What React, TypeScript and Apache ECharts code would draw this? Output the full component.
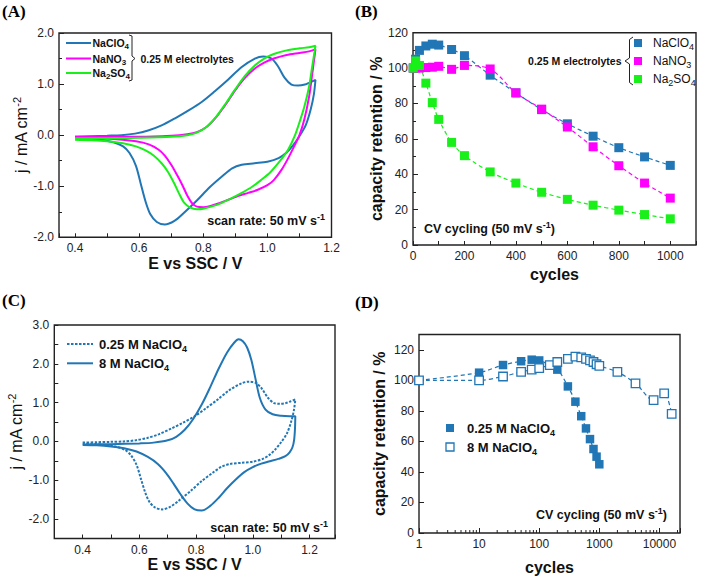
import React, { useEffect, useRef } from 'react';
import * as echarts from 'echarts';

const SANS = 'Liberation Sans, Arial, Helvetica, sans-serif';
const SERIF = 'Liberation Serif, Times New Roman, serif';
const BLUE = '#2176b5';
const MAGENTA = '#ff00ff';
const GREEN = '#19f019';
const AXIS = '#222';
const TXT = '#111';

// ---------- Panel A: CV curves, 0.25 M electrolytes [E (V), j (mA cm-2)] ----------
const naclo4Forward = [[0.40,-0.03],[0.45,-0.02],[0.50,-0.01],[0.545,0.0],[0.587,0.03],[0.628,0.09],[0.67,0.19],[0.712,0.33],[0.753,0.48],[0.795,0.65],[0.836,0.86],[0.878,1.09],[0.919,1.33],[0.961,1.50],[0.987,1.54],[1.013,1.50],[1.033,1.35],[1.054,1.12],[1.075,0.99],[1.096,0.97],[1.117,0.99],[1.132,1.03],[1.15,1.08]];
const naclo4Reverse = [[1.145,0.8],[1.135,0.5],[1.12,0.2],[1.10,-0.02],[1.08,-0.2],[1.06,-0.34],[1.035,-0.45],[1.0,-0.52],[0.96,-0.55],[0.92,-0.58],[0.89,-0.65],[0.86,-0.80],[0.82,-1.02],[0.78,-1.28],[0.74,-1.52],[0.71,-1.68],[0.68,-1.75],[0.655,-1.70],[0.635,-1.55],[0.62,-1.30],[0.605,-0.95],[0.59,-0.60],[0.57,-0.35],[0.55,-0.22],[0.52,-0.14],[0.48,-0.09],[0.44,-0.07],[0.40,-0.06]];
const nano3Forward = [[0.40,-0.03],[0.50,-0.03],[0.60,-0.03],[0.70,-0.01],[0.75,0.02],[0.78,0.06],[0.81,0.16],[0.84,0.35],[0.87,0.60],[0.90,0.88],[0.93,1.12],[0.96,1.30],[0.99,1.42],[1.02,1.50],[1.06,1.57],[1.10,1.61],[1.13,1.64],[1.15,1.68]];
const nano3Reverse = [[1.14,1.2],[1.13,0.75],[1.115,0.3],[1.10,0.0],[1.085,-0.2],[1.065,-0.45],[1.045,-0.67],[1.02,-0.88],[1.0,-0.98],[0.97,-1.07],[0.94,-1.13],[0.91,-1.19],[0.88,-1.26],[0.85,-1.33],[0.82,-1.39],[0.80,-1.41],[0.78,-1.40],[0.765,-1.33],[0.75,-1.18],[0.735,-0.98],[0.72,-0.80],[0.70,-0.58],[0.68,-0.40],[0.66,-0.28],[0.63,-0.18],[0.59,-0.12],[0.53,-0.08],[0.46,-0.06],[0.40,-0.05]];
const na2so4Forward = [[0.40,-0.06],[0.50,-0.06],[0.60,-0.05],[0.70,-0.03],[0.75,0.0],[0.78,0.05],[0.81,0.16],[0.84,0.36],[0.87,0.62],[0.90,0.90],[0.93,1.16],[0.96,1.36],[0.99,1.50],[1.02,1.59],[1.06,1.66],[1.10,1.70],[1.13,1.72],[1.15,1.75]];
const na2so4Reverse = [[1.14,1.35],[1.13,0.95],[1.115,0.55],[1.10,0.25],[1.085,-0.02],[1.065,-0.28],[1.04,-0.5],[1.01,-0.72],[0.98,-0.88],[0.95,-1.02],[0.92,-1.13],[0.89,-1.23],[0.86,-1.32],[0.83,-1.39],[0.80,-1.44],[0.78,-1.45],[0.76,-1.42],[0.74,-1.32],[0.725,-1.15],[0.71,-0.95],[0.69,-0.72],[0.67,-0.55],[0.645,-0.40],[0.62,-0.30],[0.59,-0.22],[0.55,-0.16],[0.50,-0.12],[0.45,-0.10],[0.40,-0.09]];

// ---------- Panel C: 8 M NaClO4 CV ----------
const m8Forward = [[0.40,-0.08],[0.50,-0.07],[0.60,-0.05],[0.65,-0.03],[0.70,0.03],[0.73,0.12],[0.76,0.30],[0.79,0.58],[0.82,0.95],[0.85,1.40],[0.88,1.88],[0.91,2.30],[0.935,2.55],[0.95,2.63],[0.965,2.58],[0.98,2.42],[0.995,2.10],[1.01,1.60],[1.025,1.12],[1.045,0.82],[1.07,0.70],[1.10,0.66],[1.13,0.65],[1.15,0.65]];
const m8Reverse = [[1.149,0.35],[1.146,0.05],[1.14,-0.15],[1.13,-0.28],[1.115,-0.38],[1.09,-0.45],[1.06,-0.51],[1.03,-0.57],[1.0,-0.66],[0.97,-0.79],[0.94,-0.98],[0.91,-1.20],[0.88,-1.45],[0.85,-1.66],[0.82,-1.78],[0.795,-1.75],[0.77,-1.60],[0.745,-1.36],[0.72,-1.08],[0.695,-0.82],[0.665,-0.58],[0.63,-0.40],[0.59,-0.26],[0.55,-0.18],[0.50,-0.13],[0.45,-0.10],[0.40,-0.09]];

// ---------- Panel B: capacity retention (%) vs cycles ----------
const cyclesB = [1, 10, 25, 50, 75, 100, 150, 200, 300, 400, 500, 600, 700, 800, 900, 1000];
const naclo4B = [100, 105, 110, 112.5, 113.5, 113, 110.5, 107, 96, 86, 76.5, 68.5, 61.5, 55, 49.8, 45];
const nano3B = [100, 100, 100, 100.3, 100.5, 101, 99.3, 101.5, 99.5, 86, 76.8, 66.7, 55.5, 44.8, 35, 26.5];
const na2so4B = [100, 104, 101.5, 91.5, 80.5, 71, 58, 50.5, 41.3, 35, 29.8, 25.8, 22.5, 19.7, 17.2, 14.8];

// ---------- Panel D: capacity retention (%) vs cycles, log axis ----------
const cyclesD025 = [1, 10, 25, 50, 75, 100, 200, 300, 400, 500, 600, 700, 800, 900, 1000];
const retD025 = [100, 105, 110, 112.5, 113.5, 113, 107, 96, 86, 76.5, 68.5, 61.5, 55, 50, 45];
const cyclesD8M = [1, 10, 25, 50, 75, 100, 150, 200, 300, 400, 500, 600, 700, 800, 900, 1000, 2000, 4000, 8000, 12000, 16000];
const retD8M = [100, 100, 102.5, 105.5, 107, 108, 110, 112, 114, 115.5, 115, 114, 113, 112, 110.5, 109.5, 105.5, 98, 87, 91.5, 78];
const logMinorTicks = [2,3,4,5,6,7,8,9,20,30,40,50,60,70,80,90,200,300,400,500,600,700,800,900,2000,3000,4000,5000,6000,7000,8000,9000,20000];

const isMult = (v: number, step: number) => Math.abs(v / step - Math.round(v / step)) < 1e-6;
const pairs = (xs: number[], ys: number[]) => xs.map((x, i) => [x, ys[i]]);

const tickStyle = { inside: true, length: 5, lineStyle: { color: AXIS, width: 1 } };
const minorStyle = { show: true, splitNumber: 2, length: 3, lineStyle: { color: AXIS, width: 1 } };
const labelStyle = { color: '#222', fontSize: 12, fontFamily: SANS, margin: 5 };

const boldName = { fontFamily: SANS, fontSize: 16, fontWeight: 'bold', color: TXT };
const jName = '{a|j / mA cm}{s|-2}';
const jRich = {
  a: { fontFamily: SANS, fontSize: 16, color: TXT, lineHeight: 20, verticalAlign: 'middle' },
  s: { fontFamily: SANS, fontSize: 11, color: TXT, lineHeight: 10, verticalAlign: 'top' },
};

function baseAxis(gridIndex: number) {
  return {
    gridIndex,
    axisLine: { show: false, onZero: false },
    splitLine: { show: false },
    axisTick: tickStyle,
    axisLabel: { ...labelStyle },
    nameLocation: 'middle',
  };
}

function richText(x: number, y: number, text: string, size: number, bold: boolean, align = 'left') {
  const fw = bold ? 'bold' : 'normal';
  const small = Math.round(size * 0.72);
  return {
    type: 'text', x, y, silent: true,
    style: {
      text, align, verticalAlign: 'middle',
      rich: {
        m: { fontFamily: SANS, fontSize: size, fontWeight: fw, fill: TXT, lineHeight: size + 5, verticalAlign: 'middle' },
        b: { fontFamily: SANS, fontSize: small, fontWeight: fw, fill: TXT, lineHeight: small, verticalAlign: 'bottom' },
        t: { fontFamily: SANS, fontSize: small, fontWeight: fw, fill: TXT, lineHeight: small, verticalAlign: 'top' },
      },
    },
  };
}

function panelLabel(x: number, y: number, text: string) {
  return { type: 'text', x, y, silent: true, style: { text, fontFamily: SERIF, fontSize: 17, fontWeight: 'bold', fill: '#000', verticalAlign: 'top' } };
}

function legLine(x1: number, x2: number, y: number, color: string, dash?: number[]) {
  return { type: 'line', silent: true, shape: { x1, y1: y, x2, y2: y }, style: { stroke: color, lineWidth: 2, lineDash: dash } };
}

function legSquare(cx: number, cy: number, color: string, open = false) {
  return {
    type: 'rect', silent: true, shape: { x: cx - 4, y: cy - 4, width: 8, height: 8 },
    style: open ? { fill: '#fff', stroke: color, lineWidth: 1.3 } : { fill: color },
  };
}

const graphic = [
  panelLabel(2, 3, '(A)'),
  panelLabel(355, 3, '(B)'),
  panelLabel(2, 292, '(C)'),
  panelLabel(355, 294, '(D)'),
  // Panel A legend
  legLine(66, 91, 43, BLUE),
  legLine(66, 91, 58.5, MAGENTA),
  legLine(66, 91, 73, GREEN),
  richText(92.5, 43, '{m|NaClO}{b|4}', 10.5, true),
  richText(92.5, 58.5, '{m|NaNO}{b|3}', 10.5, true),
  richText(92.5, 73, '{m|Na}{b|2}{m|SO}{b|4}', 10.5, true),
  { type: 'polyline', silent: true, shape: { points: [[129, 35], [132, 36], [132, 56], [135, 58.5], [132, 61], [132, 80], [129, 81]] }, style: { stroke: '#222', lineWidth: 1, fill: 'none' } },
  richText(140.5, 58.5, '{m|0.25 M electrolytes}', 10.5, true),
  richText(325, 221, '{m|scan rate: 50 mV s}{t|-1}', 12.5, true, 'right'),
  // Panel B legend
  legSquare(638, 43, BLUE),
  legSquare(638, 61, MAGENTA),
  legSquare(638, 79, GREEN),
  richText(653, 43, '{m|NaClO}{b|4}', 12, false),
  richText(653, 61, '{m|NaNO}{b|3}', 12, false),
  richText(653, 79, '{m|Na}{b|2}{m|SO}{b|4}', 12, false),
  { type: 'polyline', silent: true, shape: { points: [[633, 37], [629.5, 39.5], [629.5, 58], [625, 61], [629.5, 64], [629.5, 82.5], [633, 85]] }, style: { stroke: '#222', lineWidth: 1, fill: 'none' } },
  richText(621.5, 61, '{m|0.25 M electrolytes}', 10.5, true, 'right'),
  richText(424, 229, '{m|CV cycling (50 mV s}{t|-1}{m|)}', 12.5, true),
  // Panel C legend
  legLine(67, 93, 344, BLUE, [2.5, 1.5]),
  legLine(67, 93, 363.3, BLUE),
  richText(99, 344, '{m|0.25 M NaClO}{b|4}', 13, true),
  richText(99, 363.3, '{m|8 M NaClO}{b|4}', 13, true),
  richText(328, 528.3, '{m|scan rate: 50 mV s}{t|-1}', 12.5, true, 'right'),
  // Panel D legend
  legSquare(450, 428, BLUE),
  legSquare(450, 447, BLUE, true),
  richText(467, 428, '{m|0.25 M NaClO}{b|4}', 13, true),
  richText(467, 447, '{m|8 M NaClO}{b|4}', 13, true),
  richText(667, 515, '{m|CV cycling (50 mV s}{t|-1}{m|)}', 12.5, true, 'right'),
];

const cvLine = (data: number[][], color: string, xi: number, dash?: any) => ({
  type: 'line', xAxisIndex: xi, yAxisIndex: xi, data, showSymbol: false, symbol: 'none', smooth: 0.3,
  lineStyle: { color, width: 2, type: dash || 'solid' }, silent: true,
});

const retLine = (data: number[][], color: string, xi: number, open = false) => ({
  type: 'line', xAxisIndex: xi, yAxisIndex: xi, data, symbol: 'rect', symbolSize: xi === 1 ? 9 : 8.5, smooth: 0.3,
  lineStyle: { color, width: 1.2, type: [4, 3] },
  itemStyle: open ? { color: '#fff', borderColor: color, borderWidth: 1.3 } : { color, borderWidth: 0 },
  silent: true,
});

const gridStyle = { show: true, borderColor: AXIS, borderWidth: 1.4 };

const option: any = {
  animation: false,
  backgroundColor: '#fff',
  grid: [
    { left: 59, top: 33, width: 272.5, height: 204.3, ...gridStyle },
    { left: 413, top: 32.7, width: 283, height: 212.3, ...gridStyle },
    { left: 54.3, top: 325, width: 280.7, height: 213.5, ...gridStyle },
    { left: 419, top: 334.5, width: 261, height: 198.5, ...gridStyle },
  ],
  xAxis: [
    { ...baseAxis(0), type: 'value', min: 0.35, max: 1.2, minInterval: 0.1, maxInterval: 0.1, axisTick: { ...tickStyle, length: 4 },
      axisLabel: { ...labelStyle, formatter: (v: number) => (isMult(v, 0.2) && v > 0.36 ? v.toFixed(1) : '') },
      name: 'E vs SSC / V', nameGap: 17, nameTextStyle: boldName },
    { ...baseAxis(1), type: 'value', min: 0, max: 1100, interval: 100, axisTick: { ...tickStyle, length: 4 },
      axisLabel: { ...labelStyle, formatter: (v: number) => (v % 200 === 0 && v <= 1000 ? String(v) : '') },
      name: 'cycles', nameGap: 21, nameTextStyle: boldName },
    { ...baseAxis(2), type: 'value', min: 0.3, max: 1.29, interval: 0.1, axisTick: { ...tickStyle, length: 4 },
      axisLabel: { ...labelStyle, formatter: (v: number) => (isMult(v, 0.2) && v > 0.35 && v < 1.25 ? v.toFixed(1) : '') },
      name: 'E vs SSC / V', nameGap: 14, nameTextStyle: boldName },
    { ...baseAxis(3), type: 'log', logBase: 10, min: 1, max: 22000,
      axisLabel: { ...labelStyle, formatter: (v: number) => (Math.abs(Math.log10(v) - Math.round(Math.log10(v))) < 1e-6 ? String(Math.round(v)) : '') },
      name: 'cycles', nameGap: 26, nameTextStyle: boldName },
  ],
  yAxis: [
    { ...baseAxis(0), type: 'value', min: -2, max: 2, interval: 1, minorTick: minorStyle,
      axisLabel: { ...labelStyle, formatter: (v: number) => v.toFixed(1) },
      name: jName, nameGap: 27, nameTextStyle: { rich: jRich } },
    { ...baseAxis(1), type: 'value', min: 0, max: 120, interval: 20, minorTick: minorStyle,
      axisLabel: { ...labelStyle },
      name: 'capacity retention / %', nameGap: 29, nameTextStyle: boldName },
    { ...baseAxis(2), type: 'value', min: -2.5, max: 3, interval: 0.5, axisTick: { ...tickStyle, length: 4 },
      axisLabel: { ...labelStyle, formatter: (v: number) => (isMult(v, 1) ? v.toFixed(1) : '') },
      name: jName, nameGap: 25, nameTextStyle: { rich: jRich } },
    { ...baseAxis(3), type: 'value', min: 0, max: 130, interval: 20,
      axisLabel: { ...labelStyle, formatter: (v: number) => (v <= 120 ? String(v) : '') },
      name: 'capacity retention / %', nameGap: 32, nameTextStyle: boldName },
  ],
  series: [
    cvLine([...naclo4Forward, ...naclo4Reverse], BLUE, 0),
    cvLine([...nano3Forward, ...nano3Reverse], MAGENTA, 0),
    cvLine([...na2so4Forward, ...na2so4Reverse], GREEN, 0),
    retLine(pairs(cyclesB, naclo4B), BLUE, 1),
    retLine(pairs(cyclesB, nano3B), MAGENTA, 1),
    retLine(pairs(cyclesB, na2so4B), GREEN, 1),
    cvLine([...naclo4Forward, ...naclo4Reverse], BLUE, 2, [2.5, 1.5]),
    cvLine([...m8Forward, ...m8Reverse], BLUE, 2),
    retLine(pairs(cyclesD025, retD025), BLUE, 3),
    retLine(pairs(cyclesD8M, retD8M), BLUE, 3, true),
    {
      type: 'custom', xAxisIndex: 3, yAxisIndex: 3, silent: true, clip: false,
      data: logMinorTicks.map((v) => [v, 0]),
      renderItem: (params: any, api: any) => {
        const p = api.coord([api.value(0), 0]);
        return { type: 'line', shape: { x1: p[0], y1: p[1], x2: p[0], y2: p[1] - 3 }, style: { stroke: AXIS, lineWidth: 1 } };
      },
    },
  ],
  graphic,
};

export default function App() {
  const ref = useRef<HTMLDivElement>(null);
  useEffect(() => {
    const chart = echarts.init(ref.current!, null, { renderer: 'svg' });
    chart.setOption(option);
    return () => chart.dispose();
  }, []);
  return <div ref={ref} style={{ position: 'fixed', left: 0, top: 0, width: 702, height: 579, background: '#fff' }} />;
}
